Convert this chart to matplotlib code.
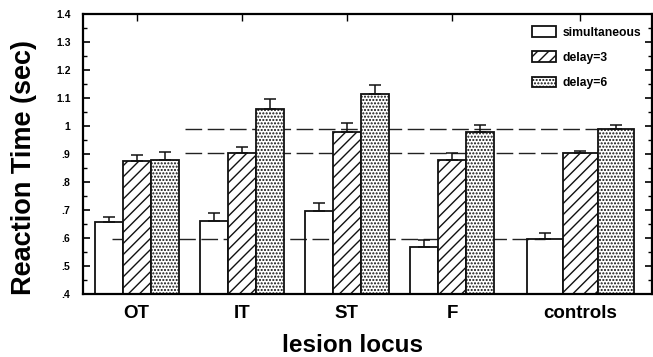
import matplotlib
matplotlib.use('Agg')
import matplotlib.pyplot as plt
import numpy as np

plt.rcParams['font.family'] = ['Liberation Sans', 'DejaVu Sans']
plt.rcParams['font.weight'] = 'bold'
plt.rcParams['hatch.linewidth'] = 1.0

groups = ['OT', 'IT', 'ST', 'F', 'controls']
conditions = ['simultaneous', 'delay=3', 'delay=6']
simultaneous = [0.655, 0.661, 0.695, 0.568, 0.596]
delay3 = [0.874, 0.901, 0.978, 0.877, 0.901]
delay6 = [0.879, 1.058, 1.112, 0.978, 0.990]
err_sim = [0.020, 0.028, 0.030, 0.024, 0.020]
err_d3 = [0.021, 0.023, 0.033, 0.027, 0.009]
err_d6 = [0.027, 0.036, 0.034, 0.023, 0.014]
yticks = [0.4, 0.5, 0.6, 0.7, 0.8, 0.9, 1.0, 1.1, 1.2, 1.3, 1.4]
yticklabels = ['.4', '.5', '.6', '.7', '.8', '.9', '1', '1.1', '1.2', '1.3', '1.4']

# layout: lesion groups evenly spaced, controls set a bit further right with wider bars
xpos = np.array([0, 1, 2, 3, 4.22])
widths = np.array([0.266, 0.266, 0.266, 0.266, 0.34])

fig = plt.figure(figsize=(6.53, 3.57), dpi=100)
ax = fig.add_axes([83/653, 63/357, 569/653, 280.5/357])

styles = [dict(facecolor='none', hatch=None),
          dict(facecolor='white', hatch='///'),
          dict(facecolor='white', hatch='.....')]
series = [simultaneous, delay3, delay6]
errs = [err_sim, err_d3, err_d6]

# reference lines at the control means, drawn behind the bars
ctrl = [simultaneous[-1], delay3[-1], delay6[-1]]
starts = [-0.233, 0.46, 0.46]
for i, (v, s) in enumerate(zip(ctrl, starts)):
    end = xpos[-1] + (i - 1) * widths[-1]
    ax.plot([s, end], [v, v], color='#222222', lw=1.0,
            linestyle=(0, (12, 4)), zorder=1)

handles = []
for i, (vals, e, st) in enumerate(zip(series, errs, styles)):
    x = xpos + (i - 1) * widths
    b = ax.bar(x, np.array(vals) - 0.4, bottom=0.4, width=widths,
               edgecolor='#111111', linewidth=1.3, zorder=2, **st)
    ax.errorbar(x, vals, yerr=[np.zeros(len(vals)), e], fmt='none',
                ecolor='#111111', elinewidth=1.1, capsize=4, capthick=1.1,
                zorder=3)
    handles.append(b)

ax.set_xlim(-0.509, 4.90)
ax.set_ylim(0.4, 1.4)
ax.set_yticks(yticks)
ax.set_yticklabels(yticklabels, fontsize=7.5, fontweight='bold')
ax.set_yticks(np.arange(0.45, 1.4, 0.1), minor=True)
ax.set_xticks(xpos)
ax.set_xticklabels(groups, fontsize=13.5, fontweight='bold')
for lbl, dx in zip(ax.get_xticklabels(), [5, 5, 5, 5, 17]):
    lbl.set_transform(lbl.get_transform() +
                      matplotlib.transforms.ScaledTranslation(dx/100, 0, fig.dpi_scale_trans))
ax.tick_params(axis='both', which='both', direction='in', top=True, right=True)
ax.tick_params(axis='y', which='major', length=5, width=1.2, pad=9)
ax.tick_params(axis='y', which='minor', length=3, width=1.0)
ax.tick_params(axis='x', which='major', length=5, width=1.0, pad=8)
for sp in ax.spines.values():
    sp.set_linewidth(1.6)

fig.text(24/653, 0.532, 'Reaction Time (sec)', rotation=90, ha='center',
         va='center', fontsize=19.5, fontweight='bold')
fig.text(353/653, 5/357, 'lesion locus', ha='center', va='baseline',
         fontsize=17.5, fontweight='bold')

leg = ax.legend(handles, conditions, loc='upper left', frameon=False,
                fontsize=8.7, handlelength=2.0, handleheight=1.0,
                labelspacing=1.05, handletextpad=0.5, borderpad=0,
                borderaxespad=0, bbox_to_anchor=(0.789, 0.955))
for t in leg.get_texts():
    t.set_fontweight('bold')

fig.savefig('out.png', dpi=100)
